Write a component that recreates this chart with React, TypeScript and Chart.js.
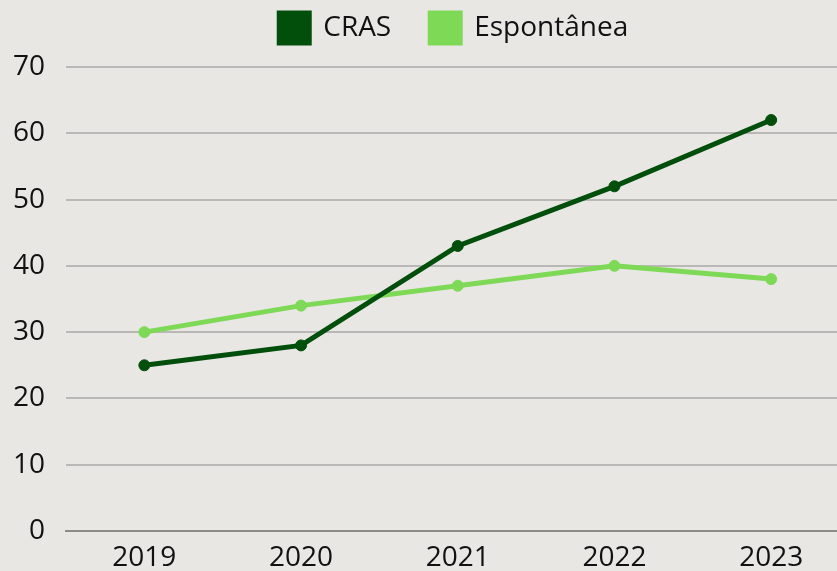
import React, { useEffect, useRef } from "react";
import { Chart, registerables } from "chart.js";

Chart.register(...registerables);

const years = ["2019", "2020", "2021", "2022", "2023"];
const crasValues = [25, 28, 43, 52, 62];
const espontaneaValues = [30, 34, 37, 40, 38];
const seriesNames = ["CRAS", "Espontânea"];
const yMin = 0;
const yMax = 70;
const yStep = 10;

const CANVAS_W = 856;
const CANVAS_H = 600;

export default function App() {
  const ref = useRef<HTMLCanvasElement | null>(null);

  useEffect(() => {
    if (!ref.current) return;
    const font = { family: "'Open Sans', 'Noto Sans', sans-serif", size: 28 };
    const legendSpacer = {
      id: "legendSpacer",
      beforeLayout(chart: any) {
        const lg = chart.legend;
        if (lg && !lg._patched) {
          const orig = lg.fit.bind(lg);
          lg.fit = function () {
            orig();
            this.height += 14;
          };
          lg._patched = true;
        }
      },
      afterLayout(chart: any) {
        const lg = chart.legend;
        if (lg) {
          lg.left -= 4;
          lg.right -= 4;
        }
      },
    };
    const chart = new Chart(ref.current, {
      type: "line",
      data: {
        labels: years,
        datasets: [
          {
            label: seriesNames[0],
            data: crasValues,
            borderColor: "#014f0b",
            backgroundColor: "#014f0b",
            borderWidth: 5,
            pointRadius: 5.5,
            pointBorderWidth: 1,
            pointBackgroundColor: "#014f0b",
            pointBorderColor: "#014f0b",
            tension: 0,
          },
          {
            label: seriesNames[1],
            data: espontaneaValues,
            borderColor: "#7ed957",
            backgroundColor: "#7ed957",
            borderWidth: 5,
            pointRadius: 5.5,
            pointBorderWidth: 1,
            pointBackgroundColor: "#7ed957",
            pointBorderColor: "#7ed957",
            tension: 0,
          },
        ],
      },
      options: {
        responsive: false,
        animation: false,
        layout: { padding: { top: -26, left: 0, right: 0, bottom: 0 } },
        plugins: {
          legend: {
            position: "top",
            fullSize: false,
            labels: {
              boxWidth: 30,
              boxHeight: 30,
              padding: 39,
              color: "#111",
              font,
            },
          },
          tooltip: { enabled: false },
        },
        scales: {
          x: {
            offset: true,
            grid: { display: false, drawTicks: false },
            border: { display: true, color: "#8c8b88", width: 2 },
            ticks: { color: "#111", font, padding: 10, maxRotation: 0 },
            afterFit(scale: any) {
              scale.height = 69;
            },
          },
          y: {
            min: yMin,
            max: yMax,
            grid: { color: "rgba(0,0,0,0.2)", lineWidth: 2, drawTicks: false },
            border: { display: false },
            ticks: { stepSize: yStep, color: "#111", font, padding: 21 },
            afterFit(scale: any) {
              scale.width = 66;
            },
          },
        },
      },
      plugins: [legendSpacer],
    });
    return () => chart.destroy();
  }, []);

  return (
    <div
      style={{
        position: "fixed",
        left: 0,
        top: 0,
        width: 837,
        height: 571,
        overflow: "hidden",
        background: "#e9e7e4",
      }}
    >
      <canvas ref={ref} width={CANVAS_W} height={CANVAS_H} style={{ display: "block" }} />
    </div>
  );
}
